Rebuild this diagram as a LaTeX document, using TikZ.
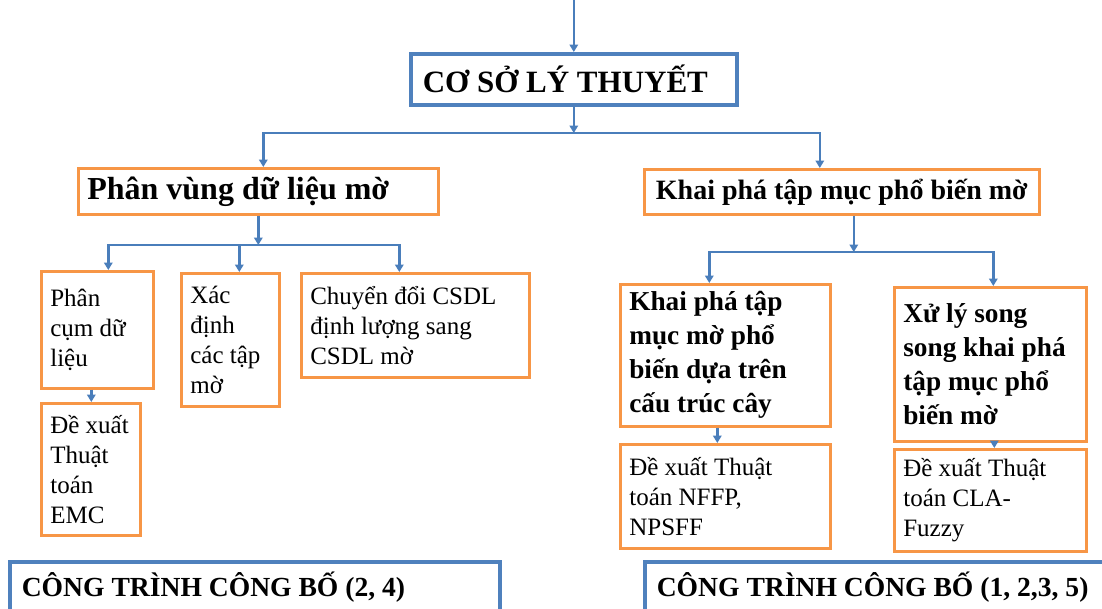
\documentclass[tikz,border=0pt]{standalone}
\usepackage{fontspec}
\setmainfont{Liberation Serif}
\usetikzlibrary{arrows.meta}
\definecolor{linkblue}{HTML}{4A7EBB}
\definecolor{boxorange}{HTML}{F79646}
\definecolor{frameblue}{HTML}{4F81BD}
\begin{document}
\begin{tikzpicture}[x=1pt,y=-1pt,
  obox/.style={draw=boxorange,line width=2.6pt,fill=white,anchor=north west,
    align=flush left,inner xsep=9pt,inner ysep=4pt},
  bbox/.style={draw=frameblue,line width=3.6pt,fill=white,anchor=north west,
    align=flush left,inner xsep=12pt,inner ysep=4pt},
  plain/.style={font=\fontsize{25}{30}\selectfont},
  strong/.style={font=\fontsize{27.3}{34}\selectfont\bfseries},
  arr/.style={draw=linkblue,line width=2.4pt,-{Triangle[width=8.5pt,length=7.5pt]}}]
\useasboundingbox (0,0) rectangle (1102,608);
\fill[white] (0,0) rectangle (1102,608);

% root
\node[bbox,minimum width=326pt,minimum height=51pt,text width=302pt,
  font=\fontsize{31}{34}\selectfont\bfseries] (cs) at (409,52) {CƠ SỞ LÝ THUYẾT};

% level 1
\node[obox,minimum width=360pt,minimum height=46pt,text width=342pt,
  font=\fontsize{32}{36}\selectfont\bfseries] (pv) at (77,167) {Phân vùng dữ liệu mờ};
\node[obox,minimum width=395pt,minimum height=45pt,text width=377pt,align=flush center,
  font=\fontsize{28}{32}\selectfont\bfseries] (kp) at (643,168) {Khai phá tập mục phổ biến mờ};

% level 2, left
\node[obox,plain,minimum width=112pt,minimum height=117pt,text width=94pt] (pc) at (40,270)
  {Phân\\cụm dữ\\liệu};
\node[obox,plain,minimum width=98pt,minimum height=133pt,text width=80pt] (xd) at (180,272)
  {Xác\\định\\các tập\\mờ};
\node[obox,plain,minimum width=228pt,minimum height=104pt,text width=210pt] (cd) at (300,272)
  {Chuyển đổi CSDL\\định lượng sang\\CSDL mờ};
\node[obox,plain,minimum width=99pt,minimum height=132pt,text width=81pt] (emc) at (40,402)
  {Đề xuất\\Thuật\\toán\\EMC};

% level 2, right
\node[obox,strong,minimum width=210pt,minimum height=142pt,text width=192pt] (kt) at (619,283)
  {Khai phá tập\\mục mờ phổ\\biến dựa trên\\cấu trúc cây};
\node[obox,strong,minimum width=192pt,minimum height=154pt,text width=174pt] (xl) at (893,286)
  {Xử lý song\\song khai phá\\tập mục phổ\\biến mờ};
\node[obox,plain,minimum width=210pt,minimum height=104pt,text width=192pt] (nf) at (619,443)
  {Đề xuất Thuật\\toán NFFP,\\NPSFF};
\node[obox,plain,minimum width=192pt,minimum height=102pt,text width=174pt] (cla) at (893,448)
  {Đề xuất Thuật\\toán CLA-\\Fuzzy};

% publication frames
\node[bbox,minimum width=490pt,minimum height=50pt,text width=466pt,
  font=\fontsize{27.6}{32}\selectfont\bfseries] (pub1) at (8,560) {CÔNG TRÌNH CÔNG BỐ (2, 4)};
\node[bbox,minimum width=480pt,minimum height=50pt,text width=456pt,
  font=\fontsize{27.6}{32}\selectfont\bfseries] (pub2) at (643,560) {CÔNG TRÌNH CÔNG BỐ (1, 2,3, 5)};

% connectors
\coordinate (in) at (cs.north |- 0,0);
\coordinate (busA) at (cs.south |- 0,133);
\coordinate (busB) at (pv.south |- 0,245);
\coordinate (busC) at ([xshift=12pt]kp.south |- 0,252);

\draw[arr] (in) -- (cs.north);
\draw[arr] (cs.south) -- (busA);
\draw[arr] (busA) -| ([xshift=5pt]pv.north);
\draw[arr] (busA) -| ([xshift=-22pt]kp.north);

\draw[arr] (pv.south) -- (busB);
\draw[arr] (busB) -| ([xshift=11pt]pc.north);
\draw[arr] (busB) -| ([xshift=9pt]xd.north);
\draw[arr] (busB) -| ([xshift=-16pt]cd.north);

\draw[arr] ([xshift=12pt]kp.south) -- (busC);
\draw[arr] (busC) -| ([xshift=-16pt]kt.north);
\draw[arr] (busC) -| ([xshift=3pt]xl.north);

\draw[arr] ([xshift=-6pt]pc.south) -- ([xshift=-6pt]pc.south |- emc.north);
\draw[arr] ([xshift=-8pt]kt.south) -- ([xshift=-8pt]kt.south |- nf.north);
\draw[arr] ([xshift=4pt]xl.south) -- ([xshift=4pt]xl.south |- cla.north);
\end{tikzpicture}
\end{document}
